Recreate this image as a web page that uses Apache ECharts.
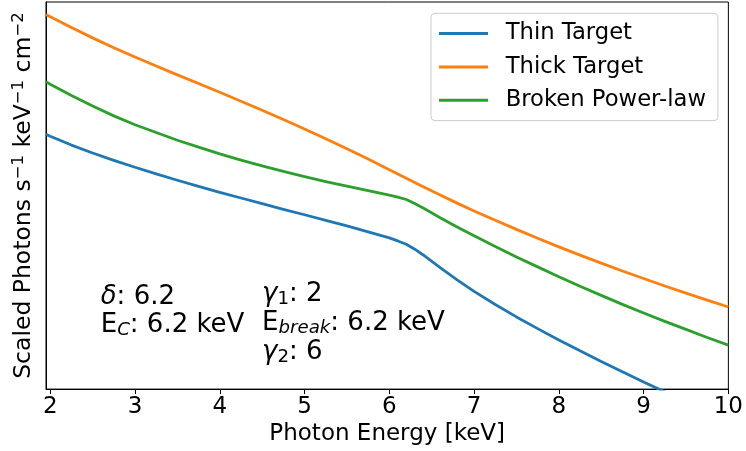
<!DOCTYPE html>
<html>
<head>
<meta charset="utf-8">
<script src="https://cdn.jsdelivr.net/npm/echarts@6/dist/echarts.min.js"></script>
<style>
  html, body { margin: 0; padding: 0; background: #ffffff; }
  #chart { width: 746px; height: 451px; }
</style>
</head>
<body>
<div id="chart"></div>
<script>
// Photon energy grid [keV]
const energy = [1.95, 2, 2.25, 2.5, 2.75, 3, 3.25, 3.5, 3.75, 4, 4.25, 4.5, 4.75, 5, 5.25, 5.5, 5.75, 6, 6.1, 6.2, 6.3, 6.4, 6.6, 6.8, 7, 7.25, 7.5, 7.75, 8, 8.25, 8.5, 8.75, 9, 9.25, 9.5, 9.75, 10];

// Scaled photon flux for each model (arbitrary units, log scale)
const thinTarget = [145.8, 140.3, 117.9, 101.0, 87.5, 76.4, 67.1, 59.3, 52.6, 46.8, 41.9, 37.5, 33.6, 30.2, 27.1, 24.3, 21.6, 19.2, 18.1, 16.96, 15.4, 13.76, 10.74, 8.45, 6.75, 5.225, 4.10, 3.26, 2.616, 2.114, 1.718, 1.402, 1.149, 0.947, 0.784, 0.653, 0.546];
const thickTarget = [1510, 1447, 1172, 958.3, 791.2, 658.5, 552.1, 464.8, 392.4, 330.7, 278.0, 232.9, 194.2, 161.3, 133.2, 109.5, 89.6, 72.9, 67.1, 61.7, 56.7, 52.2, 44.4, 37.9, 32.55, 27.1, 22.7, 19.05, 16.13, 13.71, 11.72, 10.06, 8.68, 7.51, 6.53, 5.69, 4.98];
const brokenPowerLaw = [406.6, 387.5, 310.1, 253.2, 208.6, 175.3, 150.7, 129.6, 113.2, 99.2, 88.0, 78.5, 70.6, 63.7, 57.8, 52.8, 48.3, 44.4, 42.7, 40.7, 37.6, 34.5, 28.5, 23.8, 20.0, 16.2, 13.2, 10.9, 8.99, 7.47, 6.25, 5.24, 4.43, 3.76, 3.21, 2.74, 2.36];

const seriesNames = ['Thin Target', 'Thick Target', 'Broken Power-law'];
const seriesColors = ['#1f77b4', '#ff7f0e', '#2ca02c'];
const xTicks = [2, 3, 4, 5, 6, 7, 8, 9, 10];

const FONT = 'DejaVu Sans';

function pairs(values) {
  return energy.map((e, i) => [e, values[i]]);
}

// rich-text styles for the parameter annotations (math italic, subscripts)
function mathRich(size, lh) {
  const sub = size * 0.7;
  const base = { fontFamily: FONT, fontSize: size, lineHeight: lh, color: '#000' };
  return {
    n: base,
    mi: Object.assign({}, base, { fontStyle: 'italic' }),
    sub: { fontFamily: FONT, fontSize: sub, lineHeight: lh - 14.5, verticalAlign: 'bottom', color: '#000' },
    subi: { fontFamily: FONT, fontSize: sub, lineHeight: lh - 14.5, verticalAlign: 'bottom', fontStyle: 'italic', color: '#000' }
  };
}

const chart = echarts.init(document.getElementById('chart'), null, { renderer: 'canvas' });

const option = {
  animation: false,
  backgroundColor: '#ffffff',
  grid: {
    left: 46, right: 16.5, top: 2, bottom: 58,
    containLabel: false,
    show: true, borderColor: '#000', borderWidth: 1, backgroundColor: 'transparent'
  },
  legend: {
    data: seriesNames,
    orient: 'vertical',
    left: 431, top: 13.3,
    icon: 'rect',
    itemWidth: 49, itemHeight: 3,
    itemGap: 9.3,
    padding: [8.3, 12, 8.4, 8],
    backgroundColor: 'rgba(255,255,255,0.8)',
    borderColor: '#cccccc', borderWidth: 1, borderRadius: 4,
    textStyle: { fontFamily: FONT, fontSize: 22.7, lineHeight: 24, color: '#000', padding: [0, 0, 0, 12.7] }
  },
  xAxis: {
    type: 'value',
    min: 1.95, max: 10,
    name: 'Photon Energy [keV]',
    nameLocation: 'middle',
    nameGap: 27,
    nameTextStyle: { fontFamily: FONT, fontSize: 23, color: '#000' },
    axisLine: { show: true, lineStyle: { color: '#000', width: 1 } },
    axisTick: { show: true, customValues: xTicks, length: 5, lineStyle: { color: '#000', width: 1 } },
    axisLabel: { customValues: xTicks, fontFamily: FONT, fontSize: 23, color: '#000', margin: 6 },
    splitLine: { show: false }
  },
  yAxis: {
    type: 'log',
    logBase: 10,
    min: 1, max: 1932,
    name: '{n|Scaled Photons s}{sup|\u22121}{n| keV}{sup|\u22121}{n| cm}{sup|\u22122}',
    nameLocation: 'middle',
    nameGap: 8,
    nameTextStyle: {
      fontFamily: FONT, fontSize: 23.5, color: '#000',
      rich: {
        n: { fontFamily: FONT, fontSize: 23.5, lineHeight: 28, color: '#000' },
        sup: { fontFamily: FONT, fontSize: 16.5, lineHeight: 17, verticalAlign: 'top', color: '#000' }
      }
    },
    axisLine: { show: true, lineStyle: { color: '#000', width: 1 } },
    axisTick: { show: false },
    axisLabel: { show: false },
    splitLine: { show: false },
    minorTick: { show: false }
  },
  series: [thinTarget, thickTarget, brokenPowerLaw].map((vals, i) => ({
    name: seriesNames[i],
    type: 'line',
    data: pairs(vals),
    showSymbol: false,
    smooth: false,
    clip: true,
    color: seriesColors[i],
    lineStyle: { color: seriesColors[i], width: 2.8, join: 'round' },
    emphasis: { disabled: true }
  })),
  graphic: [
    {
      type: 'text',
      left: 100.7, top: 282.5,
      style: {
        text: '{mi|\u03B4}{n|: 6.2}\n{n|E}{subi|C}{n|: 6.2 keV}',
        rich: mathRich(26, 28.5),
        fontFamily: FONT, fontSize: 26, lineHeight: 28.5
      }
    },
    {
      type: 'text',
      left: 262, top: 279.5,
      style: {
        text: '{mi|\u03B3}{sub|1}{n|: 2}\n{n|E}{subi|break}{n|: 6.2 keV}\n{mi|\u03B3}{sub|2}{n|: 6}',
        rich: mathRich(26, 29),
        fontFamily: FONT, fontSize: 26, lineHeight: 29
      }
    }
  ]
};

chart.setOption(option);
</script>
</body>
</html>
